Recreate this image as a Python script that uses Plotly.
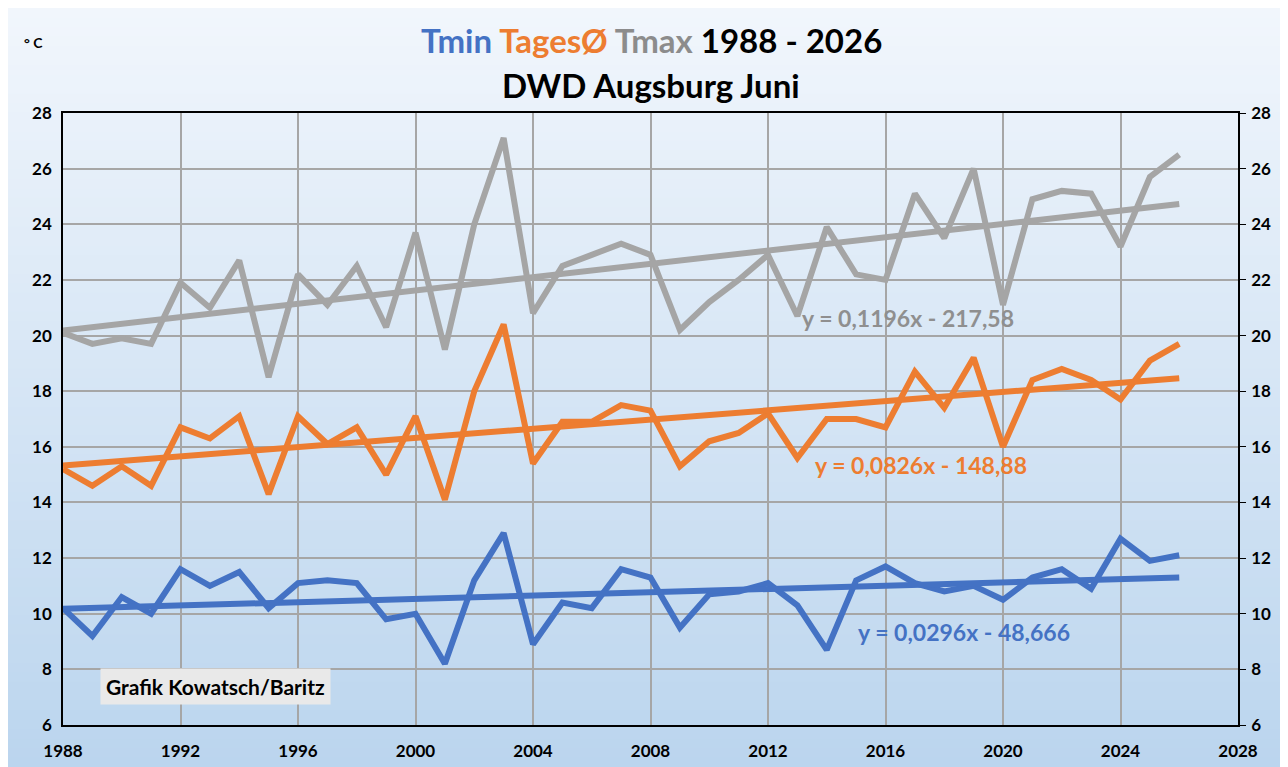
import plotly.graph_objects as go

years = list(range(1988, 2027))

tmax = [20.1, 19.7, 19.9, 19.7, 21.9, 21.0, 22.7, 18.5, 22.2, 21.1,
        22.5, 20.3, 23.7, 19.5, 24.0, 27.1, 20.8, 22.5, 22.9, 23.3,
        22.9, 20.2, 21.2, 22.0, 22.9, 20.7, 23.9, 22.2, 22.0, 25.1,
        23.5, 26.0, 21.1, 24.9, 25.2, 25.1, 23.2, 25.7, 26.5]

tages = [15.2, 14.6, 15.3, 14.6, 16.7, 16.3, 17.1, 14.3, 17.1, 16.1,
         16.7, 15.0, 17.1, 14.1, 18.0, 20.4, 15.4, 16.9, 16.9, 17.5,
         17.3, 15.3, 16.2, 16.5, 17.2, 15.6, 17.0, 17.0, 16.7, 18.7,
         17.4, 19.2, 16.0, 18.4, 18.8, 18.4, 17.7, 19.1, 19.7]

tmin = [10.2, 9.2, 10.6, 10.0, 11.6, 11.0, 11.5, 10.2, 11.1, 11.2,
        11.1, 9.8, 10.0, 8.2, 11.2, 12.9, 8.9, 10.4, 10.2, 11.6,
        11.3, 9.5, 10.7, 10.8, 11.1, 10.3, 8.7, 11.2, 11.7, 11.1,
        10.8, 11.0, 10.5, 11.3, 11.6, 10.9, 12.7, 11.9, 12.1]

# trend coefficients as printed on the chart (slope, intercept)
trend_tmax = (0.1196, -217.58)
trend_tages = (0.0826, -148.88)
trend_tmin = (0.0296, -48.666)

trend_labels = ["y = 0,1196x - 217,58", "y = 0,0826x - 148,88", "y = 0,0296x - 48,666"]

x_ticks = list(range(1988, 2029, 4))
y_ticks = list(range(6, 29, 2))

BLUE = "#4472c4"
ORANGE = "#ed7d31"
GRAY = "#a5a5a5"
FONT = "Lato"

W, H = 1272, 759
ML, MR, MT, MB = 55, 42, 105, 42
PW, PH = W - ML - MR, H - MT - MB
OFF = 8  # page body margin


def px(xp):
    return (xp - OFF - ML) / PW


def py(yp):
    return 1 - (yp - OFF - MT) / PH


def trend(coef):
    return [coef[0] * x + coef[1] for x in years]


fig = go.Figure()

series = [(tmax, trend_tmax, GRAY), (tages, trend_tages, ORANGE), (tmin, trend_tmin, BLUE)]
for data, coef, col in series:
    fig.add_trace(go.Scatter(x=years, y=data, mode="lines",
                             line=dict(color=col, width=6), hoverinfo="skip",
                             showlegend=False))
    fig.add_trace(go.Scatter(x=years, y=trend(coef), mode="lines",
                             line=dict(color=col, width=6), hoverinfo="skip",
                             showlegend=False, yaxis="y2"))

# background gradient
shapes = []
n = 80
top = (241, 246, 252)
bot = (187, 213, 238)
y0p = -MB / PH
y1p = 1 + MT / PH
for i in range(n):
    t = i / (n - 1)
    c = tuple(round(bot[k] + (top[k] - bot[k]) * t) for k in range(3))
    ya = y0p + (y1p - y0p) * i / n
    yb = y0p + (y1p - y0p) * (i + 1) / n + 0.002
    shapes.append(dict(type="rect", xref="paper", yref="paper",
                       x0=-ML / PW, x1=1 + MR / PW, y0=ya, y1=yb,
                       fillcolor="rgb(%d,%d,%d)" % c, line=dict(width=0),
                       layer="below"))

axis_font = dict(family=FONT, size=17, color="black", weight="bold")

fig.update_layout(
    width=W, height=H,
    margin=dict(l=ML, r=MR, t=MT, b=MB, autoexpand=False),
    paper_bgcolor="rgb(%d,%d,%d)" % bot,
    plot_bgcolor="rgba(0,0,0,0)",
    shapes=shapes,
    xaxis=dict(range=[1988, 2028], tickvals=x_ticks, ticktext=[str(v) for v in x_ticks],
               showgrid=True, gridcolor="#a6a6a6", gridwidth=1.5,
               showline=True, linecolor="black", linewidth=1.5, mirror=True,
               ticks="", tickfont=axis_font, zeroline=False, ticklabelstandoff=10,
               automargin=False),
    yaxis=dict(range=[6, 28], tickvals=y_ticks, ticktext=[str(v) for v in y_ticks],
               showgrid=True, gridcolor="#a6a6a6", gridwidth=1.5,
               showline=True, linecolor="black", linewidth=1.5,
               ticks="", tickfont=axis_font, zeroline=False, ticklabelstandoff=6,
               automargin=False),
    yaxis2=dict(range=[6, 28], tickvals=y_ticks, ticktext=[str(v) for v in y_ticks],
                overlaying="y", side="right", showgrid=False,
                showline=True, linecolor="black", linewidth=1.5,
                ticks="outside", ticklen=6, tickcolor="black",
                tickfont=axis_font, zeroline=False, ticklabelstandoff=2,
                automargin=False),
    font=dict(family=FONT),
)

title1 = ("<span style='color:%s'>Tmin</span> <span style='color:%s'>TagesØ</span> "
          "<span style='color:#8c8c8c'>Tmax</span> <span style='color:black'>1988 - 2026</span>"
          % (BLUE, ORANGE))
fig.add_annotation(text=title1, xref="paper", yref="paper", x=px(651), y=py(40),
                   showarrow=False, font=dict(family=FONT, size=33, weight="bold"),
                   xanchor="center", yanchor="middle")
fig.add_annotation(text="DWD Augsburg Juni", xref="paper", yref="paper",
                   x=px(651), y=py(85),
                   showarrow=False, font=dict(family=FONT, size=33, weight="bold", color="black"),
                   xanchor="center", yanchor="middle")
fig.add_annotation(text="° C", xref="paper", yref="paper", x=px(33), y=py(43),
                   showarrow=False, font=dict(family=FONT, size=14, color="black", weight="bold"),
                   xanchor="center", yanchor="middle")

label_pos = [(800, 318, "#8f8f8f"), (813, 465, ORANGE), (856, 632, BLUE)]
for (lx, ly, col), txt in zip(label_pos, trend_labels):
    fig.add_annotation(text=txt, xref="paper", yref="paper",
                       x=px(lx), y=py(ly),
                       showarrow=False, xanchor="left", yanchor="middle",
                       font=dict(family=FONT, size=23, color=col, weight="bold"))

fig.add_annotation(text="Grafik Kowatsch/Baritz", xref="paper", yref="paper",
                   x=px(100), y=py(686),
                   showarrow=False, xanchor="left", yanchor="middle",
                   font=dict(family=FONT, size=21, color="black", weight="bold"),
                   bgcolor="#e9e9e9", borderpad=5)

fig.write_html("out.html")
